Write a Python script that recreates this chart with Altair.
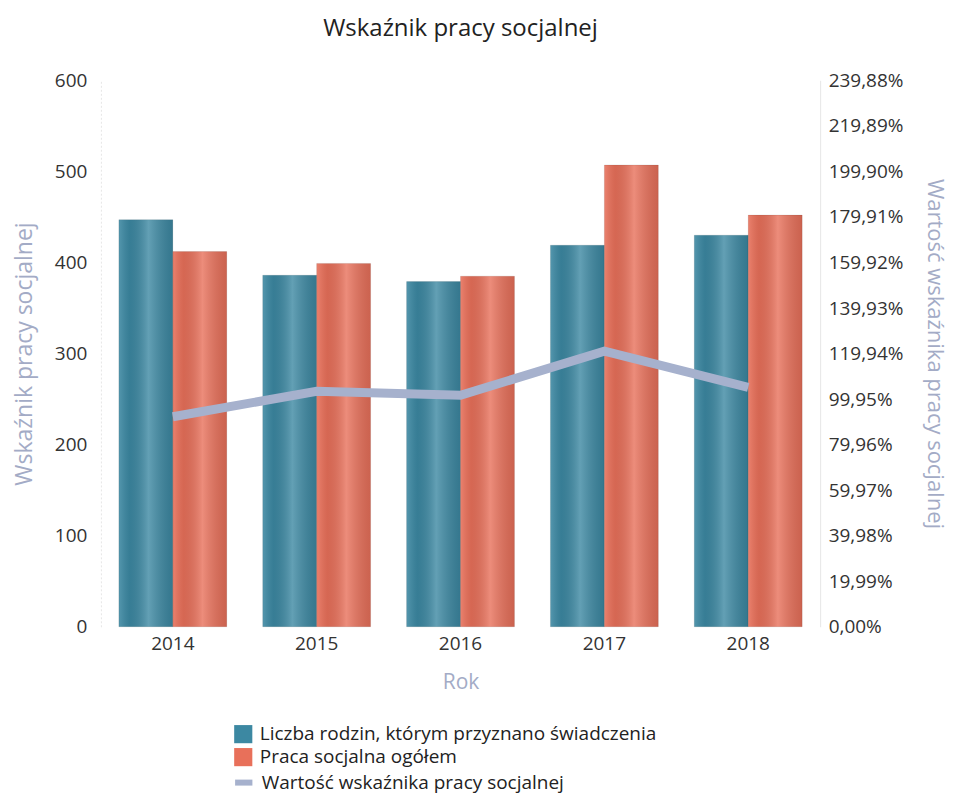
import altair as alt
import pandas as pd

years = ["2014", "2015", "2016", "2017", "2018"]
rodziny = [447, 386, 379, 419, 430]
praca = [412, 399, 385, 507, 452]
wskaznik = [92.2, 103.4, 101.6, 121.0, 105.1]

s1 = "Liczba rodzin, którym przyznano świadczenia"
s2 = "Praca socjalna ogółem"
s3 = "Wartość wskaźnika pracy socjalnej"

left_ticks = [0, 100, 200, 300, 400, 500, 600]
right_ticks = [0, 19.99, 39.98, 59.97, 79.96, 99.95, 119.94, 139.93,
               159.92, 179.91, 199.90, 219.89, 239.88]

bars_df = pd.DataFrame(
    [{"Rok": y, "Seria": s1, "Wartosc": v} for y, v in zip(years, rodziny)]
    + [{"Rok": y, "Seria": s2, "Wartosc": v} for y, v in zip(years, praca)]
)
line_df = pd.DataFrame({"Rok": years, "Wskaznik": wskaznik, "Seria": [s3] * len(years)})

FONT = "Open Sans"
TEAL = "#3c88a2"
ORANGE = "#e8705a"
LAV = "#a6b1cd"
AXIS_TITLE = "#a3abc6"
LABEL = "#333333"

x_enc = alt.X(
    "Rok:N",
    sort=years,
    scale=alt.Scale(paddingInner=0.25, paddingOuter=0.125),
    axis=alt.Axis(title="Rok", labelAngle=0, ticks=False, domain=False,
                  labelPadding=8, titlePadding=18, labelFontSize=19,
                  titleFontSize=21, titleFontWeight="normal",
                  titleColor=AXIS_TITLE, labelColor=LABEL),
)
xoff_enc = alt.XOffset("Seria:N", sort=[s1, s2],
                       scale=alt.Scale(domain=[s1, s2], paddingInner=0, paddingOuter=0))
y_enc = alt.Y(
    "Wartosc:Q",
    scale=alt.Scale(domain=[0, 600], nice=False),
    axis=alt.Axis(title="Wskaźnik pracy socjalnej", values=left_ticks, ticks=False,
                  grid=False, domainColor="#e6e6e6", domainDash=[2, 2],
                  labelPadding=14, titlePadding=18, labelFontSize=19,
                  titleFontSize=23, titleFontWeight="normal",
                  titleColor=AXIS_TITLE, labelColor=LABEL),
)

bars = alt.Chart(bars_df).mark_bar().encode(
    x=x_enc,
    xOffset=xoff_enc,
    y=y_enc,
    color=alt.Color(
        "Seria:N",
        scale=alt.Scale(domain=[s1, s2], range=[TEAL, ORANGE]),
        legend=alt.Legend(orient="none", legendX=133, legendY=645, title=None,
                          symbolType="square", symbolSize=330, symbolStrokeWidth=0,
                          labelFontSize=19, labelColor="#222222", rowPadding=3,
                          labelOffset=7, labelLimit=700),
    ),
)

shine = alt.Chart(bars_df).mark_bar(
    fill=alt.LinearGradient(
        gradient="linear", x1=0, x2=1, y1=0, y2=0,
        stops=[
            alt.GradientStop(color="rgba(255,255,255,0.12)", offset=0),
            alt.GradientStop(color="rgba(0,0,0,0.08)", offset=0.2),
            alt.GradientStop(color="rgba(255,255,255,0.20)", offset=0.55),
            alt.GradientStop(color="rgba(0,0,0,0.12)", offset=1),
        ],
    ),
    stroke="rgba(0,0,0,0.15)",
    strokeWidth=0.6,
).encode(x=x_enc, xOffset=xoff_enc, y=y_enc)

line = alt.Chart(line_df).mark_line(strokeWidth=9).encode(
    x=alt.X("Rok:N", sort=years),
    y=alt.Y(
        "Wskaznik:Q",
        scale=alt.Scale(domain=[0, 239.88], nice=False),
        axis=alt.Axis(orient="right", title="Wartość wskaźnika pracy socjalnej",
                      values=right_ticks, ticks=False, grid=False,
                      domainColor="#e6e6e6",
                      labelExpr="replace(format(datum.value, '.2f'), '.', ',') + '%'",
                      labelPadding=8, titlePadding=20, labelFontSize=19,
                      titleFontSize=22, titleFontWeight="normal",
                      titleColor=AXIS_TITLE, labelColor=LABEL),
    ),
    stroke=alt.Stroke(
        "Seria:N",
        scale=alt.Scale(domain=[s3], range=[LAV]),
        legend=alt.Legend(orient="none", legendX=131, legendY=691, title=None,
                          symbolType="stroke", symbolSize=300, symbolStrokeWidth=6,
                          labelFontSize=19, labelColor="#222222",
                          labelOffset=6, labelLimit=700),
    ),
)

chart = (
    alt.layer(alt.layer(bars, shine), line)
    .resolve_scale(y="independent", color="independent", stroke="independent")
    .properties(
        width=720,
        height=547,
        padding={"top": 9, "left": 5, "right": 8, "bottom": 0},
        title=alt.TitleParams("Wskaźnik pracy socjalnej", fontSize=24,
                              fontWeight="normal", color="#222222", offset=30,
                              anchor="middle"),
    )
    .configure(font=FONT)
    .configure_view(stroke=None)
)

chart.save("out.html", embed_options={"renderer": "svg", "actions": False})
